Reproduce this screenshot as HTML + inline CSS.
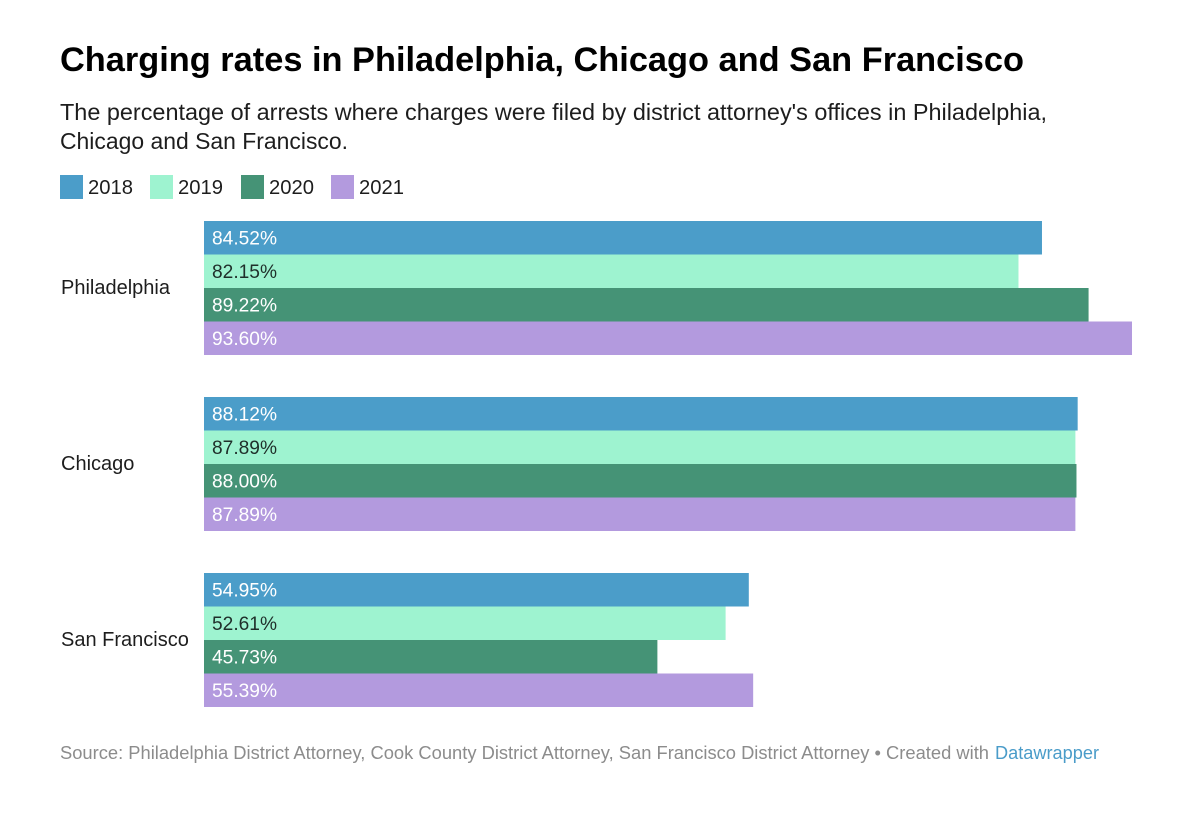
<!DOCTYPE html>
<html>
<head>
<meta charset="utf-8">
<style>
html,body{margin:0;padding:0;background:#fff;width:1200px;height:818px;overflow:hidden}
svg{display:block}
text{font-family:"Liberation Sans",sans-serif}
</style>
</head>
<body>
<svg id="chart" width="1200" height="818" viewBox="0 0 1200 818" xmlns="http://www.w3.org/2000/svg">
  <rect x="0" y="0" width="1200" height="818" fill="#ffffff"/>
  <text x="60" y="71" font-size="34" font-weight="700" fill="#000000" textLength="964" lengthAdjust="spacingAndGlyphs">Charging rates in Philadelphia, Chicago and San Francisco</text>
  <text x="60" y="120" font-size="23" fill="#1d1d1d" textLength="987" lengthAdjust="spacingAndGlyphs">The percentage of arrests where charges were filed by district attorney's offices in Philadelphia,</text>
  <text x="60" y="149" font-size="23" fill="#1d1d1d" textLength="288" lengthAdjust="spacingAndGlyphs">Chicago and San Francisco.</text>
  <g id="legend"></g>
  <g id="bars"></g>
  <text x="60" y="759" font-size="18" fill="#8c8c8c" textLength="929" lengthAdjust="spacingAndGlyphs">Source: Philadelphia District Attorney, Cook County District Attorney, San Francisco District Attorney • Created with</text>
  <text x="995" y="759" font-size="18" fill="#4a9cc9" textLength="104" lengthAdjust="spacingAndGlyphs">Datawrapper</text>
</svg>
<script>
const categories = ["Philadelphia", "Chicago", "San Francisco"];
const years = ["2018", "2019", "2020", "2021"];
const values2018 = [84.52, 88.12, 54.95];
const values2019 = [82.15, 87.89, 52.61];
const values2020 = [89.22, 88.00, 45.73];
const values2021 = [93.60, 87.89, 55.39];
const seriesValues = [values2018, values2019, values2020, values2021];
const seriesColors = ["#4b9dc9", "#9ef3d0", "#459376", "#b39ade"];
const labelColors = ["#ffffff", "#1f2f2a", "#ffffff", "#ffffff"];

const NS = "http://www.w3.org/2000/svg";
const plotLeft = 204;
const pxPerUnit = 928 / 93.6;
const groupTop = 221;
const groupPitch = 176;
const barHeight = 33.5;
const x = v => v * pxPerUnit;
const y = (c, s) => groupTop + c * groupPitch + s * barHeight;

function node(tag, attrs, text) {
  const el = document.createElementNS(NS, tag);
  for (const k in attrs) el.setAttribute(k, attrs[k]);
  if (text !== undefined) el.textContent = text;
  return el;
}

const legend = document.getElementById("legend");
const legendSwatchX = [60, 150, 241, 331];
years.forEach((year, s) => {
  const swatch = node("rect", {x: legendSwatchX[s], y: 175, width: 23, height: 24, fill: seriesColors[s]});
  
  
  legend.appendChild(swatch);
  const label = node("text", {x: legendSwatchX[s] + 28, y: 194, "font-size": 20, fill: "#1d1d1d", textLength: 45, lengthAdjust: "spacingAndGlyphs"}, year);
  
  
  legend.appendChild(label);
});

const bars = document.getElementById("bars");
categories.forEach((cat, c) => {
  const catLabel = node("text", {x: 61, y: y(c, 2) + 6, "font-size": 20, fill: "#1d1d1d"}, cat);
  
  
  bars.appendChild(catLabel);
  seriesValues.forEach((vals, s) => {
    const v = vals[c];
    const bar = node("rect", {x: plotLeft, y: y(c, s), width: x(v), height: barHeight, fill: seriesColors[s]});
    
    
    bars.appendChild(bar);
    const valueLabel = node("text", {x: plotLeft + 8, y: y(c, s) + 23.5, "font-size": 19.5, fill: labelColors[s], textLength: 65, lengthAdjust: "spacingAndGlyphs"}, v.toFixed(2) + "%");
    
    
    bars.appendChild(valueLabel);
  });
});
</script>
</body>
</html>
